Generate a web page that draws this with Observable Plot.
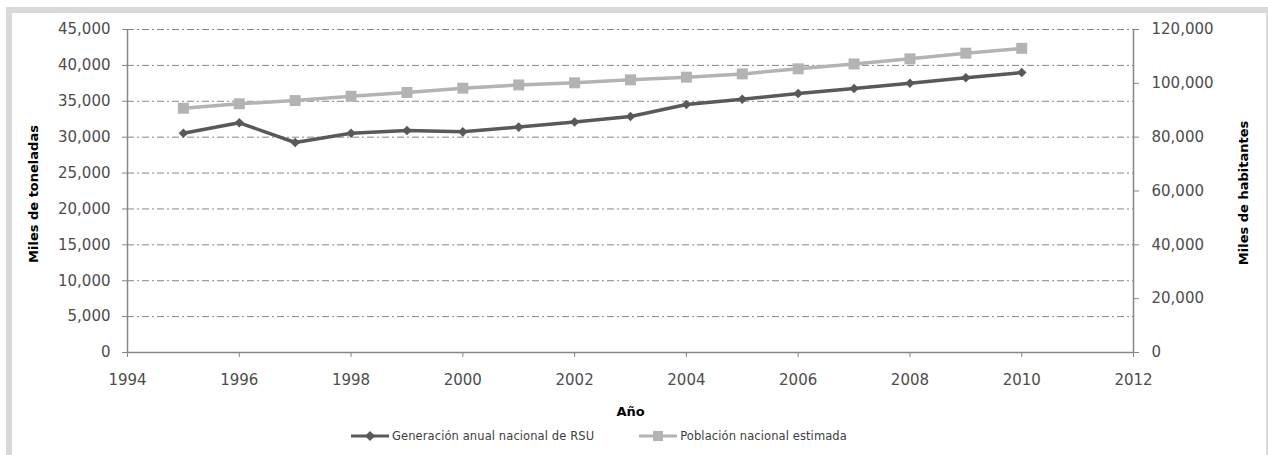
<!DOCTYPE html>
<html>
<head>
<meta charset="utf-8">
<script src="https://cdn.jsdelivr.net/npm/d3@7"></script>
<script src="https://cdn.jsdelivr.net/npm/@observablehq/plot@0.6"></script>
<style>
  html, body { margin: 0; padding: 0; background: #fff; width: 1268px; height: 455px; overflow: hidden; }
  #frame { position: absolute; left: 6px; top: 7px; width: 1254px; height: 470px; border: 6px solid #d9d9d9; border-bottom: none; background: #fff; }
  #chart { position: absolute; left: 0; top: 0; }
  #legend { position: absolute; left: 0; top: 429px; width: 1268px; display: flex; justify-content: flex-start; padding-left: 328px; box-sizing: border-box; font-family: "DejaVu Sans", sans-serif; font-size: 11.5px; color: #404040; }
  .item { display: flex; align-items: center; margin: 0 22px; }
  .item span { letter-spacing: 0.1px; }
  .item svg { margin-right: 2px; }
</style>
</head>
<body>
<div id="frame"></div>
<div id="chart"></div>
<div id="legend"></div>
<script>
const years = [1995, 1996, 1997, 1998, 1999, 2000, 2001, 2002, 2003, 2004, 2005, 2006, 2007, 2008, 2009, 2010];
const rsu = [30550, 32000, 29260, 30550, 30930, 30740, 31400, 32100, 32880, 34550, 35290, 36080, 36780, 37520, 38270, 39000];
const poblacion = [90750, 92400, 93600, 95200, 96600, 98200, 99400, 100200, 101300, 102300, 103500, 105400, 107200, 109100, 111200, 113000];
const seriesNames = ["Generación anual nacional de RSU", "Población nacional estimada"];
const xTicks = [1994, 1996, 1998, 2000, 2002, 2004, 2006, 2008, 2010, 2012];
const yLeftTicks = [0, 5000, 10000, 15000, 20000, 25000, 30000, 35000, 40000, 45000];
const yRightTicks = [0, 20000, 40000, 60000, 80000, 100000, 120000];
const leftMax = 45000, rightMax = 120000;

const k = leftMax / rightMax;
const dataRsu = years.map((y, i) => ({year: y, v: rsu[i]}));
const dataPob = years.map((y, i) => ({year: y, v: poblacion[i] * k}));
const fmt = d3.format(",");
const dark = "#595959", light = "#b3b3b3", axisColor = "#868686";

const chart = Plot.plot({
  width: 1268,
  height: 425,
  marginLeft: 127,
  marginRight: 135,
  marginTop: 29,
  marginBottom: 73,
  style: {background: "transparent", fontFamily: "DejaVu Sans, sans-serif", fontSize: "15px", color: "#4d4d4d"},
  x: {domain: [1994, 2012]},
  y: {domain: [0, leftMax]},
  marks: [
    Plot.gridY(yLeftTicks.filter(d => d > 0), {stroke: axisColor, strokeOpacity: 1, strokeWidth: 1, strokeDasharray: "7,3,2,3"}),
    Plot.ruleX([1994, 2012], {stroke: axisColor, strokeWidth: 1.5}),
    Plot.ruleY([0], {stroke: axisColor, strokeWidth: 1.5}),
    Plot.axisX(xTicks, {anchor: "bottom", tickSize: 5, tickPadding: 17, tickFormat: d => String(d), label: null, stroke: axisColor, fill: "#4d4d4d", letterSpacing: "0.6px"}),
    Plot.axisY(yLeftTicks, {anchor: "left", tickSize: 5, tickPadding: 12, tickFormat: fmt, label: null, stroke: axisColor, fill: "#4d4d4d", letterSpacing: "0.4px"}),
    Plot.axisY(yRightTicks.map(d => d * k), {anchor: "right", tickSize: 5, tickPadding: 13, tickFormat: d => fmt(Math.round(d / k)), label: null, stroke: axisColor, fill: "#4d4d4d", letterSpacing: "0.4px"}),
    Plot.line(dataPob, {x: "year", y: "v", stroke: light, strokeWidth: 3.5}),
    Plot.dot(dataPob, {x: "year", y: "v", symbol: "square", r: 6.2, fill: light, stroke: "none"}),
    Plot.line(dataRsu, {x: "year", y: "v", stroke: dark, strokeWidth: 3.5}),
    Plot.dot(dataRsu, {x: "year", y: "v", symbol: "diamond2", r: 4.3, fill: dark, stroke: "none"}),
    Plot.text(["Miles de toneladas"], {frameAnchor: "left", dx: -94, dy: 3, rotate: -90, textAnchor: "middle", lineAnchor: "middle", fontWeight: "bold", fontSize: 13, fill: "#000", letterSpacing: "0.5px"}),
    Plot.text(["Miles de habitantes"], {frameAnchor: "right", dx: 110, dy: 2, rotate: -90, textAnchor: "middle", lineAnchor: "middle", fontWeight: "bold", fontSize: 13, fill: "#000", letterSpacing: "0.5px"}),
    Plot.text(["Año"], {frameAnchor: "bottom", dy: 59, lineAnchor: "middle", fontWeight: "bold", fontSize: 13, fill: "#000"})
  ]
});
document.getElementById("chart").appendChild(chart);

// legend
const legend = d3.select("#legend");
const symbols = [{c: dark, s: "diamond"}, {c: light, s: "square"}];
seriesNames.forEach((name, i) => {
  const it = legend.append("div").attr("class", "item");
  const sv = it.append("svg").attr("width", 40).attr("height", 14);
  sv.append("line").attr("x1", 1).attr("x2", 39).attr("y1", 7).attr("y2", 7).attr("stroke", symbols[i].c).attr("stroke-width", 3);
  if (symbols[i].s === "diamond") {
    sv.append("path").attr("d", "M20,2 L25,7 L20,12 L15,7 Z").attr("fill", symbols[i].c);
  } else {
    sv.append("rect").attr("x", 15).attr("y", 2).attr("width", 10).attr("height", 10).attr("fill", symbols[i].c);
  }
  it.append("span").text(name);
});
</script>
</body>
</html>
